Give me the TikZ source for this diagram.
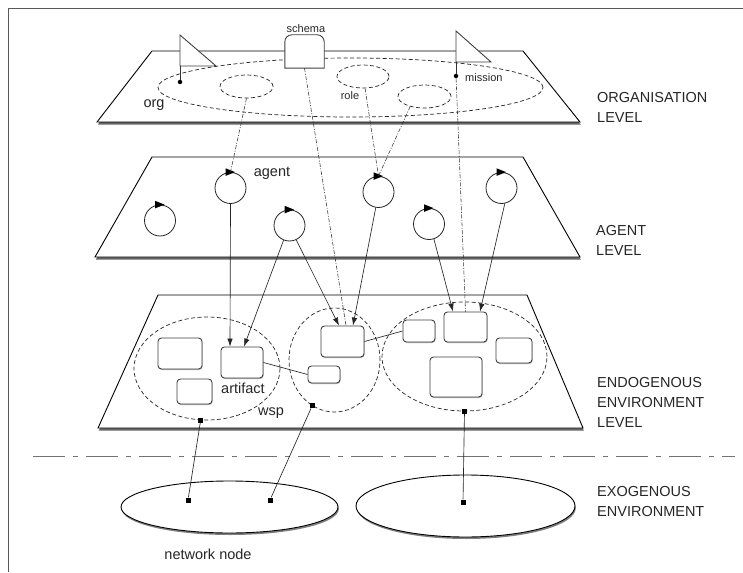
\documentclass[tikz,border=0pt]{standalone}
\usepackage{fontspec}
\setmainfont{Liberation Sans}
\usetikzlibrary{shapes.geometric,shadows,arrows.meta,calc}
\begin{document}
\begin{tikzpicture}[x=1pt,y=-1pt,
 plate/.style={draw=black, line width=0.9pt, fill=white, drop shadow={shadow xshift=0.8pt,shadow yshift=-2.6pt,opacity=0.6,fill=black}},
 dashell/.style={ellipse, draw=black!85, dash pattern=on 4pt off 2.5pt, line width=0.7pt, inner sep=0pt},
 artbox/.style={rectangle, rounded corners=3.5pt, draw=black!75, line width=0.9pt, fill=white, inner sep=0pt, drop shadow={shadow xshift=0.6pt,shadow yshift=-1pt,opacity=0.3,fill=black}},
 agentc/.style={circle, draw=black!85, line width=0.8pt, minimum size=31pt, inner sep=0pt, fill=white},
 sqdot/.style={rectangle, fill=black, minimum size=5pt, inner sep=0pt},
 rddot/.style={circle, fill=black, minimum size=4.5pt, inner sep=0pt},
 ddline/.style={black!80, line width=0.55pt, dash pattern=on 4pt off 1.5pt on 1pt off 1.5pt},
 sarrow/.style={black!85, line width=0.65pt, -{Latex[length=8pt,width=5.5pt]}},
 linkline/.style={black!85, line width=0.65pt},
 lbl/.style={font=\fontsize{14.5}{17}\selectfont, text=black!85, inner sep=0pt},
 smalllbl/.style={font=\fontsize{11}{13}\selectfont, text=black!85, inner sep=0pt},
 levellbl/.style={font=\fontsize{14.5}{20}\selectfont, text=black!85, align=left, anchor=west, inner sep=0pt},
 exoell/.style={ellipse, draw=black, line width=0.9pt, fill=white, inner sep=0pt, drop shadow={shadow xshift=0.8pt,shadow yshift=-2pt,opacity=0.5,fill=black}},
 flagst/.style={draw=black!75, line width=0.9pt, fill=white},
]
\useasboundingbox (0,0) rectangle (743,572);
% frame
\draw[black!65, line width=1.3pt] (743,8.5) -- (8.5,8.5) -- (8.5,572);

% planes
\draw[plate] (152,51) -- (523,51) -- (580,122) -- (97,122) -- cycle;
\draw[plate] (152,157) -- (523,157) -- (580,257) -- (95,257) -- cycle;
\draw[plate] (158,295) -- (527,295) -- (583,428) -- (98,428) -- cycle;

% organisation level
\node[dashell, minimum width=385pt, minimum height=59pt] (org) at (350.5,87.5) {};
\node[dashell, minimum width=53pt, minimum height=23pt] (r1) at (246.5,86.5) {};
\node[dashell, minimum width=52pt, minimum height=23pt] (r2) at (363,76.5) {};
\node[dashell, minimum width=53pt, minimum height=23pt] (r3) at (424.5,96.5) {};

\draw[flagst] (180,35) -- (216,66) -- (180,66) -- cycle;
\node[rddot] (od1) at (180,82) {};
\draw[black!80, line width=0.6pt] (180,66) -- (od1);
\draw[flagst] (456,31) -- (491,62) -- (456,62) -- cycle;
\node[rddot] (od2) at (456,76) {};
\draw[black!80, line width=0.6pt] (456,62) -- (od2);

\node[minimum width=39pt, minimum height=33pt, inner sep=0pt] (schema) at (304.5,51.5) {};
\draw[draw=black!75, line width=0.9pt, fill=white] (schema.south west) -- ([yshift=-7pt]schema.north west) arc[start angle=180,end angle=90,radius=7pt] -- ([xshift=-7pt]schema.north east) arc[start angle=90,end angle=0,radius=7pt] -- (schema.south east) -- cycle;

\node[lbl] (orglbl) at (154,105) {org};
\node[smalllbl] (rolelbl) at (350,96) {role};
\node[smalllbl, anchor=west] (misslbl) at (465,78) {mission};
\node[smalllbl] (schlbl) at (306,29) {schema};

% agent level
\node[agentc] (a1) at (160,220.5) {};
\node[agentc] (a2) at (230.5,188) {};
\node[agentc] (a3) at (289.5,225.5) {};
\node[agentc] (a4) at (378.5,192) {};
\node[agentc] (a5) at (429,224) {};
\node[agentc] (a6) at (501.5,188) {};
\foreach \n in {a1,a2,a3,a4,a5,a6}
  \fill[black] ([shift={(-5,-3.8)}]\n.north) -- ([shift={(4.5,0)}]\n.north) -- ([shift={(-5,3.8)}]\n.north) -- cycle;
\node[lbl] (agentlbl) at (272,173) {agent};

% endogenous environment level
\node[dashell, minimum width=146pt, minimum height=103pt] (w1) at (207,368.5) {};
\node[dashell, minimum width=91pt, minimum height=104pt] (w2) at (334.5,360) {};
\node[dashell, minimum width=165pt, minimum height=109pt] (w3) at (464.5,356.5) {};

\node[artbox, minimum width=44pt, minimum height=31pt] (rA) at (180,353.5) {};
\node[artbox, minimum width=42pt, minimum height=31pt] (rB) at (242,362.5) {};
\node[artbox, minimum width=35pt, minimum height=25pt] (rC) at (194.5,391.5) {};
\node[artbox, minimum width=43pt, minimum height=31pt] (rD) at (342.5,341.5) {};
\node[artbox, minimum width=32pt, minimum height=17pt] (rE) at (324,374.5) {};
\node[artbox, minimum width=32pt, minimum height=22pt] (rF) at (419,331) {};
\node[artbox, minimum width=43pt, minimum height=30pt] (rG) at (465.5,327) {};
\node[artbox, minimum width=36pt, minimum height=25pt] (rH) at (514,350.5) {};
\node[artbox, minimum width=52pt, minimum height=40pt] (rI) at (456,377) {};

\draw[linkline] (rB.east) -- (rE.west);
\draw[linkline] (rD.east) -- (rF.west);

\node[lbl] (artlbl) at (243,388) {artifact};
\node[lbl] (wsplbl) at (271,413) {wsp};

\node[sqdot] (e1) at (w1.-97) {};
\node[sqdot] (e2) at (w2.-116) {};
\node[sqdot] (e3) at (w3.south) {};

% separator
\coordinate (sepL) at (33,456);
\coordinate (sepR) at (735,456);
\draw[black!55, line width=0.8pt, dash pattern=on 32pt off 8pt on 5pt off 8pt] (sepL) -- (sepR);

% exogenous environment
\node[exoell, minimum width=217pt, minimum height=52pt] (ex1) at (229.5,507) {};
\node[exoell, minimum width=219pt, minimum height=62pt] (ex2) at (465.5,506) {};
\node[sqdot] (x1) at (188,500) {};
\node[sqdot] (x2) at (270,500) {};
\node[sqdot] (x3) at (463,502) {};
\node[lbl] (netlbl) at (208,554) {network node};

% connectors
\draw[ddline] (r1.south) -- (a2.north);
\draw[ddline] (r2.-80) -- (a4.north);
\draw[ddline] (r3.-145) -- (a4.north);
\draw[ddline] (schema.south) -- ([xshift=3.5pt]rD.north);
\draw[ddline] (od2) -- (rG.north);

\draw[sarrow] (a2.south) -- ([xshift=-12pt]rB.north);
\draw[sarrow] (a3.-112) -- ([xshift=2pt]rB.north);
\draw[sarrow] (a3.-65) -- ([xshift=-3.5pt]rD.north);
\draw[sarrow] (a4.-100) -- ([xshift=10.5pt]rD.north);
\draw[sarrow] (a5.-72) -- ([xshift=-12.5pt]rG.north);
\draw[sarrow] (a6.-78) -- ([xshift=14.5pt]rG.north);

\draw[linkline] (e1) -- (x1);
\draw[linkline] (e2) -- (x2);
\draw[linkline] (e3) -- (x3);

% level labels
\node[levellbl] (lv1) at (597,107) {ORGANISATION\\LEVEL};
\node[levellbl] (lv2) at (596,240) {AGENT\\LEVEL};
\node[levellbl] (lv3) at (597,402) {ENDOGENOUS\\ENVIRONMENT\\LEVEL};
\node[levellbl] (lv4) at (597,502) {EXOGENOUS\\ENVIRONMENT};
\end{tikzpicture}
\end{document}
